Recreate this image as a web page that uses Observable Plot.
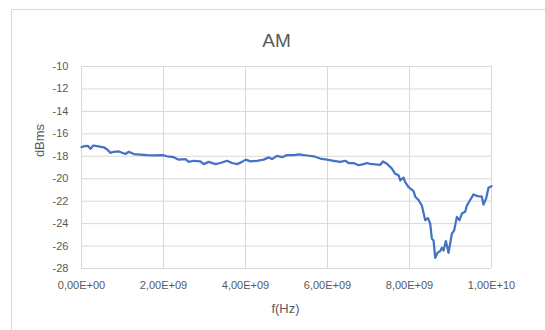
<!DOCTYPE html>
<html>
<head>
<meta charset="utf-8">
<script src="https://cdn.jsdelivr.net/npm/d3@7"></script>
<script src="https://cdn.jsdelivr.net/npm/@observablehq/plot@0.6"></script>
<style>
  html, body { margin: 0; padding: 0; background: #fff; }
  #wrap { position: relative; width: 545px; height: 330px; overflow: hidden; }
  #frame { position: absolute; left: 11px; top: 9px; width: 600px; height: 400px; border: 1px solid #d9d9d9; box-sizing: border-box; }
  #chart { position: absolute; left: 0; top: 0; }
</style>
</head>
<body>
<div id="wrap"><div id="frame"></div><div id="chart"></div></div>
<script>
const title = "AM";
const xLabel = "f(Hz)";
const yLabel = "dBms";
const xTicks = [0, 2e9, 4e9, 6e9, 8e9, 1e10];
const yTicks = [-10, -12, -14, -16, -18, -20, -22, -24, -26, -28];

const freqGHz = [0, 0.057, 0.154, 0.219, 0.284, 0.382, 0.544, 0.626, 0.707, 0.788, 0.910, 1.072, 1.154, 1.275, 1.438, 1.600, 1.763, 1.982, 2.088, 2.250, 2.372, 2.535, 2.616, 2.738, 2.900, 2.981, 3.103, 3.266, 3.388, 3.550, 3.672, 3.794, 3.916, 4.005, 4.119, 4.281, 4.444, 4.565, 4.647, 4.768, 4.890, 5.012, 5.175, 5.296, 5.500, 5.662, 5.825, 5.987, 6.149, 6.312, 6.434, 6.515, 6.637, 6.759, 6.881, 6.962, 7.043, 7.165, 7.287, 7.352, 7.449, 7.571, 7.652, 7.734, 7.774, 7.855, 7.896, 7.977, 8.099, 8.140, 8.221, 8.302, 8.384, 8.448, 8.505, 8.546, 8.587, 8.627, 8.684, 8.749, 8.790, 8.830, 8.887, 8.952, 9.033, 9.090, 9.155, 9.220, 9.277, 9.358, 9.399, 9.480, 9.561, 9.659, 9.765, 9.805, 9.870, 9.927, 10.0];
const dBms = [-17.19, -17.10, -17.07, -17.34, -17.04, -17.10, -17.20, -17.40, -17.70, -17.60, -17.57, -17.80, -17.60, -17.80, -17.85, -17.90, -17.93, -17.90, -18.00, -18.08, -18.30, -18.25, -18.50, -18.40, -18.45, -18.70, -18.50, -18.70, -18.60, -18.40, -18.60, -18.70, -18.50, -18.30, -18.45, -18.40, -18.30, -18.10, -18.25, -17.96, -18.08, -17.90, -17.90, -17.84, -17.93, -18.00, -18.20, -18.30, -18.40, -18.50, -18.40, -18.60, -18.60, -18.80, -18.70, -18.60, -18.67, -18.73, -18.76, -18.46, -18.67, -19.10, -19.56, -19.70, -20.16, -19.90, -20.30, -20.75, -21.10, -21.60, -21.90, -22.40, -23.70, -23.50, -24.00, -25.35, -25.50, -27.05, -26.60, -26.45, -26.15, -26.40, -25.56, -26.60, -24.90, -24.60, -23.40, -23.70, -23.10, -22.95, -22.40, -21.90, -21.40, -21.55, -21.60, -22.30, -21.75, -20.80, -20.66];

const data = freqGHz.map((f, i) => ({ f: f * 1e9, v: dBms[i] }));

function excelSci(d) {
  const [m, e] = d.toExponential(2).split("e");
  const n = +e;
  return m.replace(".", ",") + "E" + (n < 0 ? "-" : "+") + String(Math.abs(n)).padStart(2, "0");
}

const grid = "#d9d9d9";
const txt = "#595959";
const font = "Liberation Sans, Arial, sans-serif";

const chart = Plot.plot({
  width: 545,
  height: 330,
  marginLeft: 81,
  marginRight: 54,
  marginTop: 66,
  marginBottom: 62,
  style: { fontFamily: font, color: txt, background: "transparent", overflow: "visible" },
  x: { domain: [0, 1e10] },
  y: { domain: [-28, -10] },
  marks: [
    Plot.gridX(xTicks, { stroke: grid, strokeOpacity: 1, strokeWidth: 1 }),
    Plot.gridY(yTicks, { stroke: grid, strokeOpacity: 1, strokeWidth: 1 }),
    Plot.axisX(xTicks, { tickSize: 0, tickPadding: 13, tickFormat: excelSci, fontSize: 11, fill: txt, label: null }),
    Plot.axisY(yTicks, { tickSize: 0, tickPadding: 13, tickFormat: d => String(d), fontSize: 11, fill: txt, label: null }),
    Plot.line(data, { x: "f", y: "v", stroke: "#4472C4", strokeWidth: 2.25, strokeLinejoin: "round" }),
    Plot.text([title], { frameAnchor: "top", dx: -10, dy: -26, fontSize: 19, fill: txt, lineAnchor: "middle" }),
    Plot.text([xLabel], { frameAnchor: "bottom", dx: -1, dy: 40, fontSize: 13, fill: txt, lineAnchor: "middle" }),
    Plot.text([yLabel], { frameAnchor: "top-left", dx: -42, dy: 74, rotate: -90, fontSize: 13, fill: txt, textAnchor: "middle", lineAnchor: "middle" })
  ]
});
document.getElementById("chart").appendChild(chart);
</script>
</body>
</html>
